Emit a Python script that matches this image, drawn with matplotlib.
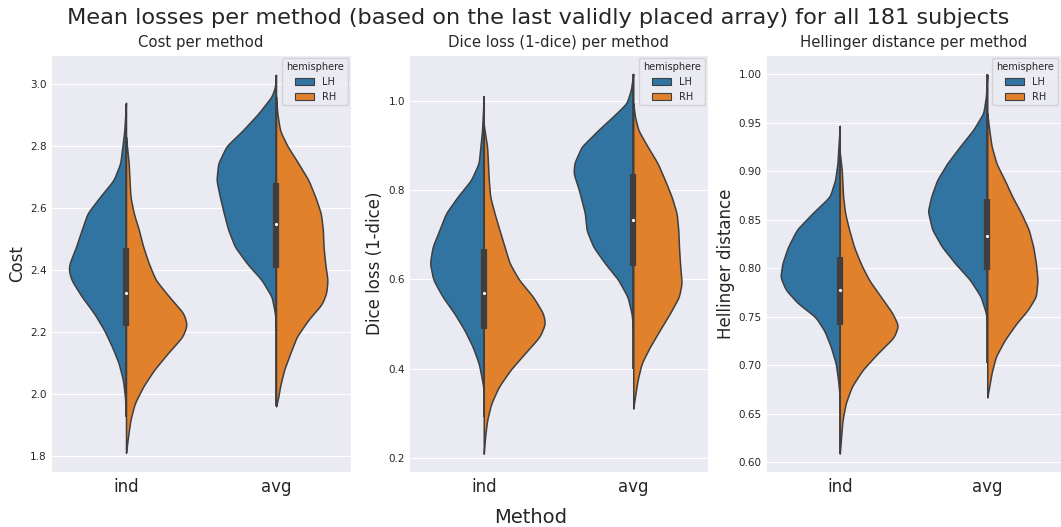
import numpy as np
import matplotlib
matplotlib.use("Agg")
import matplotlib.pyplot as plt
import seaborn as sns
from matplotlib.patches import Patch

sns.set_style("darkgrid")
plt.rcParams['font.family'] = ['DejaVu Sans']

methods = ["ind", "avg"]
hemis = ["LH", "RH"]
colors = ["#3274a1", "#e1812c"]
titles = ["Cost per method", "Dice loss (1-dice) per method", "Hellinger distance per method"]
ylabels = ["Cost", "Dice loss (1-dice)", "Hellinger distance"]
ylims = [(1.748, 3.094), (0.169, 1.102), (0.590, 1.020)]
yticks = [[1.8, 2.0, 2.2, 2.4, 2.6, 2.8, 3.0],
          [0.2, 0.4, 0.6, 0.8, 1.0],
          [0.60, 0.65, 0.70, 0.75, 0.80, 0.85, 0.90, 0.95, 1.00]]
ytickfmt = ["{:.1f}", "{:.1f}", "{:.2f}"]

# ---- violin density profiles (value, half-width in px*3) ----
# Cost
cost_ind_LH_y = [1.93, 1.99, 2.045, 2.10, 2.153, 2.206, 2.26, 2.314, 2.368, 2.40, 2.42, 2.475, 2.53, 2.583, 2.637, 2.69, 2.744, 2.85, 2.94]
cost_ind_LH_w = [0, 3, 9, 22, 42, 65, 95, 132, 163, 171, 169, 149, 132, 115, 77, 37, 17, 5, 0]
cost_ind_RH_y = [1.81, 1.862, 1.916, 1.97, 2.024, 2.077, 2.13, 2.185, 2.223, 2.26, 2.314, 2.368, 2.42, 2.475, 2.53, 2.583, 2.637, 2.744, 2.83]
cost_ind_RH_w = [0, 6, 13, 26, 51, 83, 123, 168, 181, 171, 128, 88, 68, 51, 38, 23, 13, 8, 0]
cost_avg_LH_y = [2.206, 2.26, 2.314, 2.368, 2.42, 2.475, 2.53, 2.583, 2.637, 2.69, 2.744, 2.80, 2.85, 2.905, 2.96, 2.99, 3.03]
cost_avg_LH_w = [0, 3, 13, 43, 86, 123, 143, 156, 168, 178, 173, 148, 100, 53, 13, 3, 0]
cost_avg_RH_y = [1.96, 1.99, 2.024, 2.077, 2.13, 2.185, 2.24, 2.29, 2.325, 2.368, 2.42, 2.475, 2.53, 2.583, 2.637, 2.69, 2.744, 2.80, 2.85, 2.905, 2.96]
cost_avg_RH_w = [0, 7, 12, 24, 42, 62, 97, 137, 150, 154, 147, 142, 140, 134, 117, 97, 67, 34, 12, 4, 0]
# Dice
dice_ind_LH_y = [0.352, 0.375, 0.412, 0.449, 0.487, 0.524, 0.561, 0.599, 0.636, 0.673, 0.71, 0.748, 0.785, 0.822, 0.86, 0.934, 1.01]
dice_ind_LH_w = [0, 5, 15, 33, 58, 88, 123, 151, 161, 153, 133, 113, 78, 38, 15, 5, 0]
dice_ind_RH_y = [0.21, 0.248, 0.285, 0.322, 0.36, 0.397, 0.434, 0.472, 0.501, 0.524, 0.561, 0.599, 0.636, 0.673, 0.71, 0.748, 0.785, 0.822, 0.897, 0.945]
dice_ind_RH_w = [0, 4, 10, 22, 45, 79, 122, 167, 183, 177, 147, 105, 77, 62, 47, 32, 19, 15, 10, 0]
dice_avg_LH_y = [0.487, 0.524, 0.561, 0.599, 0.636, 0.673, 0.71, 0.748, 0.80, 0.837, 0.86, 0.897, 0.934, 0.972, 0.994, 1.024, 1.06]
dice_avg_LH_w = [0, 5, 17, 45, 85, 120, 140, 145, 163, 179, 177, 155, 105, 50, 20, 7, 0]
dice_avg_RH_y = [0.311, 0.337, 0.375, 0.412, 0.449, 0.487, 0.524, 0.561, 0.591, 0.636, 0.673, 0.71, 0.748, 0.785, 0.822, 0.86, 0.897, 0.934, 0.964, 0.994]
dice_avg_RH_w = [0, 5, 13, 25, 50, 80, 110, 137, 145, 140, 137, 135, 130, 115, 95, 73, 43, 15, 5, 0]
# Hellinger
hel_ind_LH_y = [0.667, 0.685, 0.702, 0.719, 0.736, 0.75, 0.764, 0.778, 0.791, 0.805, 0.822, 0.84, 0.857, 0.874, 0.891, 0.908, 0.947]
hel_ind_LH_w = [0, 5, 12, 27, 47, 74, 127, 164, 180, 174, 157, 130, 82, 30, 14, 7, 0]
hel_ind_RH_y = [0.609, 0.626, 0.643, 0.661, 0.678, 0.695, 0.712, 0.729, 0.741, 0.754, 0.771, 0.788, 0.805, 0.822, 0.84, 0.857, 0.874, 0.902, 0.919]
hel_ind_RH_w = [0, 4, 8, 18, 36, 68, 113, 163, 176, 158, 123, 88, 63, 43, 28, 16, 10, 6, 0]
hel_avg_LH_y = [0.743, 0.754, 0.771, 0.788, 0.805, 0.822, 0.84, 0.859, 0.874, 0.891, 0.908, 0.926, 0.943, 0.96, 0.977, 1.0]
hel_avg_LH_w = [0, 4, 20, 52, 97, 137, 167, 180, 170, 152, 122, 82, 42, 12, 4, 0]
hel_avg_RH_y = [0.667, 0.678, 0.692, 0.709, 0.726, 0.743, 0.757, 0.771, 0.788, 0.805, 0.822, 0.84, 0.857, 0.874, 0.891, 0.908, 0.926, 0.943, 0.96]
hel_avg_RH_w = [0, 6, 13, 26, 53, 88, 123, 148, 153, 148, 140, 126, 103, 76, 53, 28, 13, 6, 0]

# ---- box stats (q1, median, q3, whisker low, whisker high) ----
cost_ind_box = [2.218, 2.325, 2.47, 1.925, 2.937]
cost_avg_box = [2.405, 2.547, 2.682, 1.96, 3.03]
dice_ind_box = [0.49, 0.57, 0.669, 0.293, 1.01]
dice_avg_box = [0.63, 0.733, 0.836, 0.40, 1.06]
hel_ind_box = [0.742, 0.778, 0.812, 0.609, 0.947]
hel_avg_box = [0.798, 0.833, 0.871, 0.702, 1.0]

panels = [
    [(cost_ind_LH_y, cost_ind_LH_w, cost_ind_RH_y, cost_ind_RH_w, cost_ind_box),
     (cost_avg_LH_y, cost_avg_LH_w, cost_avg_RH_y, cost_avg_RH_w, cost_avg_box)],
    [(dice_ind_LH_y, dice_ind_LH_w, dice_ind_RH_y, dice_ind_RH_w, dice_ind_box),
     (dice_avg_LH_y, dice_avg_LH_w, dice_avg_RH_y, dice_avg_RH_w, dice_avg_box)],
    [(hel_ind_LH_y, hel_ind_LH_w, hel_ind_RH_y, hel_ind_RH_w, hel_ind_box),
     (hel_avg_LH_y, hel_avg_LH_w, hel_avg_RH_y, hel_avg_RH_w, hel_avg_box)],
]

WSCALE = 450.0  # zoomed px per category unit
EDGE = "#3f3f3f"


def smooth_profile(y, w):
    y = np.asarray(y, float)
    w = np.asarray(w, float) / WSCALE
    yy = np.linspace(y[0], y[-1], 400)
    ww = np.interp(yy, y, w)
    k = np.exp(-0.5 * (np.arange(-9, 10) / 3.5) ** 2)
    k /= k.sum()
    pad = np.pad(ww, 9, mode="edge")
    ws = np.convolve(pad, k, mode="same")[9:-9]
    ws = np.maximum(ws, 0)
    ws *= np.interp(yy, y, w).max() / max(ws.max(), 1e-9)
    ws[0] = 0
    ws[-1] = 0
    return yy, ws


fig = plt.figure(figsize=(10.61, 5.27), dpi=100)
lefts = [51, 409, 766]
rights = [351, 708, 1061]
bot = 1 - 472 / 527
top = 1 - 55 / 527
axes = []
for i in range(3):
    ax = fig.add_axes([lefts[i] / 1061, bot, (rights[i] - lefts[i]) / 1061, top - bot])
    axes.append(ax)
    for j, (ly, lw_, ry, rw, box) in enumerate(panels[i]):
        yy, ww = smooth_profile(ly, lw_)
        ax.fill_betweenx(yy, j - ww, j, facecolor=colors[0], edgecolor=EDGE, linewidth=1.1, zorder=2)
        yy, ww = smooth_profile(ry, rw)
        ax.fill_betweenx(yy, j, j + ww, facecolor=colors[1], edgecolor=EDGE, linewidth=1.1, zorder=2)
        q1, med, q3, wlo, whi = box
        ax.plot([j, j], [wlo, whi], color=EDGE, lw=1.3, zorder=3, solid_capstyle="butt")
        ax.plot([j, j], [q1, q3], color=EDGE, lw=4.5, zorder=4, solid_capstyle="butt")
        ax.scatter([j], [med], s=5, color="white", zorder=5, marker="o", linewidths=0)
    ax.set_xlim(-0.5, 1.5)
    ax.set_ylim(*ylims[i])
    ax.set_xticks(range(len(methods)))
    ax.set_xticklabels(methods, fontsize=12)
    ax.set_yticks(yticks[i])
    ax.set_yticklabels([ytickfmt[i].format(t) for t in yticks[i]], fontsize=7.5)
    ax.xaxis.grid(False)
    ax.set_title(titles[i], fontsize=10.7, pad=5.5)
    ax.set_ylabel(ylabels[i], fontsize=12, labelpad=3)
    ax.tick_params(axis="both", length=0, pad=3)
    ax.tick_params(axis="x", pad=4.5)
    handles = [Patch(facecolor=colors[k], edgecolor=EDGE, linewidth=0.8, label=hemis[k]) for k in range(2)]
    leg = ax.legend(handles=handles, title="hemisphere", loc="upper right", fontsize=7, title_fontsize=7,
                    borderaxespad=0.3, handlelength=2.0)

fig.text(538 / 1061, 1 - 24 / 527,
         "Mean losses per method (based on the last validly placed array) for all 181 subjects",
         ha="center", va="baseline", fontsize=16.1)
fig.text(0.5, 1 - 523 / 527, "Method", ha="center", va="baseline", fontsize=14)
fig.savefig("out.png", dpi=100)
